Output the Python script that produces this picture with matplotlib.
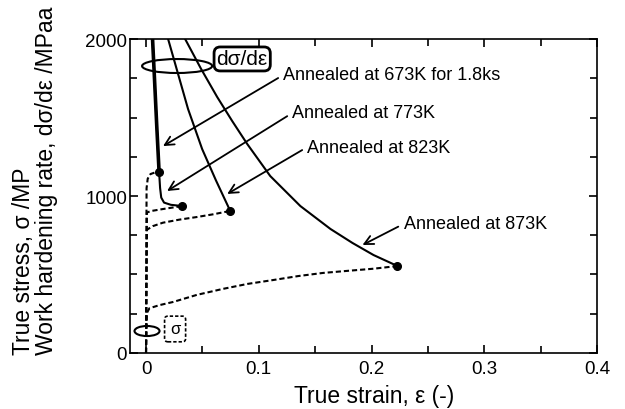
import matplotlib
matplotlib.use("Agg")
import matplotlib.pyplot as plt
from matplotlib.patches import Ellipse
from matplotlib.ticker import MultipleLocator

plt.rcParams['font.family'] = ['Liberation Sans', 'DejaVu Sans']

# ---- data ----
# true stress curves (dashed)
eps_673 = [0, 0.0005, 0.0015, 0.004, 0.008, 0.0116]
sig_673 = [0, 1050, 1110, 1140, 1150, 1153]
eps_773 = [0, 0.0008, 0.005, 0.015, 0.025, 0.032]
sig_773 = [0, 895, 905, 917, 928, 936]
eps_823 = [0, 0.0008, 0.006, 0.015, 0.030, 0.045, 0.060, 0.0747]
sig_823 = [0, 785, 808, 830, 850, 866, 884, 905]
eps_873 = [0, 0.0008, 0.003, 0.012, 0.024, 0.045, 0.068, 0.090, 0.113, 0.135,
           0.157, 0.180, 0.202, 0.223]
sig_873 = [0, 255, 285, 305, 325, 370, 408, 440, 465, 490, 510, 524, 537, 554]

# work hardening rate curves (solid)
weps_673 = [0.0058, 0.0075, 0.0095, 0.0116]
whr_673 = [2000, 1750, 1450, 1153]
weps_773 = [0.0058, 0.0075, 0.0095, 0.0116, 0.0125, 0.0135, 0.016, 0.022, 0.032]
whr_773 = [2000, 1750, 1450, 1153, 1050, 990, 958, 944, 936]
weps_823 = [0.0196, 0.0373, 0.0498, 0.0620, 0.0747]
whr_823 = [2000, 1554, 1299, 1100, 905]
weps_873 = [0.0347, 0.0489, 0.0631, 0.0764, 0.0898, 0.1102, 0.1369, 0.1636,
            0.1831, 0.2018, 0.223]
whr_873 = [2000, 1809, 1631, 1478, 1331, 1127, 936, 790, 701, 624, 554]

# fracture / intersection points
pt_eps = [0.0116, 0.032, 0.0747, 0.223]
pt_sig = [1153, 936, 905, 554]

labels = ["Annealed at 673K for 1.8ks", "Annealed at 773K",
          "Annealed at 823K", "Annealed at 873K"]
label_xy = [(0.1218, 1771), (0.1298, 1529), (0.1431, 1312), (0.2284, 822)]
arrow_tip = [(0.0151, 1318), (0.0187, 1032), (0.072, 1013), (0.192, 688)]

xticks = [0, 0.1, 0.2, 0.3, 0.4]
xticklabels = ["0", "0.1", "0.2", "0.3", "0.4"]
yticks = [0, 1000, 2000]

# ---- figure ----
fig = plt.figure(figsize=(6.25, 4.1), dpi=100)
ax = fig.add_axes([0.208, 0.1366, 0.9552 - 0.208, 0.9024 - 0.1366])

dash = (0, (2.5, 1.4))
for e, s in [(eps_673, sig_673), (eps_773, sig_773), (eps_823, sig_823), (eps_873, sig_873)]:
    ax.plot(e, s, color='black', lw=1.5, linestyle=dash)

ax.plot(weps_673, whr_673, color='black', lw=2.6, solid_capstyle='butt')
for e, w in [(weps_773, whr_773), (weps_823, whr_823), (weps_873, whr_873)]:
    ax.plot(e, w, color='black', lw=1.5)

ax.plot(pt_eps, pt_sig, 'o', color='black', markersize=5.5, zorder=5)

for lab, (tx, ty), (hx, hy) in zip(labels, label_xy, arrow_tip):
    ax.annotate(lab, xy=(hx, hy), xytext=(tx, ty), ha='left', va='center',
                fontsize=13,
                arrowprops=dict(arrowstyle='->', lw=1.3, color='black',
                                mutation_scale=16, shrinkA=2, shrinkB=0,
                                relpos=(0, 0.5)))

# d sigma / d eps marker
ax.add_patch(Ellipse((0.0276, 1828), 0.0622, 89, fill=False, lw=1.5, color='black'))
ax.text(0.0853, 1873, "dσ/dε", ha='center', va='center', fontsize=15,
        bbox=dict(boxstyle='round,pad=0.12,rounding_size=0.3', fc='white',
                  ec='black', lw=2))
# sigma marker
ax.add_patch(Ellipse((0.0009, 140), 0.0222, 64, fill=False, lw=1.5, color='black'))
ax.text(0.0258, 153, "σ", ha='center', va='center', fontsize=12,
        bbox=dict(boxstyle='round,pad=0.32,rounding_size=0.2', fc='white',
                  ec='black', lw=1.2, linestyle=(0, (2, 1.2))))

ax.set_xlim(-0.0142, 0.4)
ax.set_ylim(0, 2000)
ax.set_xticks(xticks)
ax.set_xticklabels(xticklabels)
ax.set_yticks(yticks)
ax.xaxis.set_minor_locator(MultipleLocator(0.05))
ax.yaxis.set_minor_locator(MultipleLocator(250))
ax.tick_params(which='both', direction='in', top=True, right=True, width=1.2,
               labelsize=13.5)
ax.tick_params(which='major', length=6)
ax.tick_params(which='minor', length=5)
ax.tick_params(axis='x', pad=5)
ax.tick_params(axis='y', pad=2)
for sp in ax.spines.values():
    sp.set_linewidth(1.2)

fig.text(0.599, 0.017, "True strain, ε (-)", ha='center', va='baseline', fontsize=16.5)
fig.text(0.056, 0.134, "True stress, σ /MP\nWork hardening rate, dσ/dε /MPaa",
         rotation=90, ha='center', va='bottom', multialignment='left',
         fontsize=16.5, linespacing=0.95)

fig.savefig("out.png", dpi=100)
